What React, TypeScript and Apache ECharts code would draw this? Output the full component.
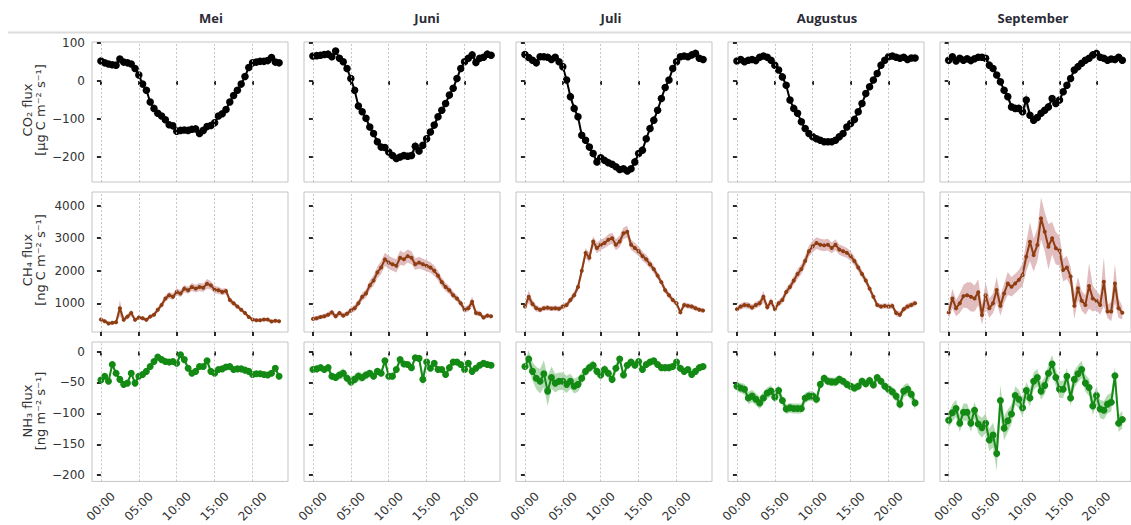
import React, { useEffect, useRef } from "react";
import * as echarts from "echarts";

const hours = [
  0, 0.5, 1, 1.5, 2, 2.5, 3, 3.5, 4, 4.5, 5, 5.5,
  6, 6.5, 7, 7.5, 8, 8.5, 9, 9.5, 10, 10.5, 11, 11.5,
  12, 12.5, 13, 13.5, 14, 14.5, 15, 15.5, 16, 16.5, 17, 17.5,
  18, 18.5, 19, 19.5, 20, 20.5, 21, 21.5, 22, 22.5, 23, 23.5,
];

const months = ["Mei", "Juni", "Juli", "Augustus", "September"];
const xTickValues = [0, 5, 10, 15, 20];
const xTickLabels = ["00:00", "05:00", "10:00", "15:00", "20:00"];
const co2Ticks = [-200, -100, 0, 100];
const ch4Ticks = [1000, 2000, 3000, 4000];
const nh3Ticks = [-200, -150, -100, -50, 0];

// CO2 flux [µg C m-2 s-1]
const co2Mei = [
  53, 48, 45, 43, 42, 58, 50, 48, 45, 33, 16, -8,
  -24, -55, -72, -85, -92, -102, -115, -118, -132, -130, -129, -130,
  -127, -126, -138, -130, -120, -117, -110, -92, -86, -75, -55, -38,
  -24, -8, 12, 36, 48, 50, 52, 52, 54, 62, 50, 48,
];
const co2Juni = [
  66, 67, 68, 70, 71, 64, 79, 60, 51, 33, 7, -24,
  -66, -81, -98, -121, -138, -160, -174, -175, -187, -196, -204, -200,
  -196, -198, -196, -172, -184, -169, -152, -134, -116, -94, -77, -59,
  -37, -19, 7, 33, 51, 60, 69, 49, 60, 63, 71, 68,
];
const co2Juli = [
  70, 62, 55, 48, 64, 64, 63, 57, 63, 51, 38, 3,
  -41, -72, -94, -143, -156, -174, -191, -213, -202, -209, -215, -219,
  -226, -233, -231, -237, -231, -213, -191, -182, -152, -125, -103, -77,
  -46, -17, 3, 33, 51, 64, 66, 64, 69, 73, 60, 57,
];
const co2Aug = [
  53, 57, 51, 55, 57, 54, 63, 66, 63, 55, 42, 29,
  11, -11, -50, -72, -85, -107, -125, -138, -147, -152, -156, -160,
  -160, -160, -156, -147, -138, -121, -112, -101, -81, -59, -33, -15,
  3, 20, 42, 55, 64, 66, 63, 60, 63, 57, 61, 61,
];
const co2Sep = [
  55, 64, 53, 60, 55, 59, 54, 59, 63, 63, 60, 42,
  33, 16, -2, -24, -41, -68, -72, -72, -81, -50, -90, -103,
  -96, -85, -77, -68, -46, -59, -50, -28, -11, 7, 29, 38,
  47, 55, 60, 69, 73, 63, 60, 55, 58, 57, 63, 55,
];
const co2MeiErr = [
  4, 4, 4, 4, 4, 5, 4, 4, 4, 4, 4, 4,
  4, 4, 5, 5, 5, 5, 5, 5, 5, 5, 5, 5,
  5, 5, 6, 5, 5, 5, 5, 5, 5, 5, 5, 5,
  4, 4, 4, 4, 4, 4, 4, 4, 4, 5, 4, 4,
];
const co2JuniErr = [
  4, 4, 4, 4, 4, 4, 5, 4, 4, 4, 4, 5,
  5, 5, 6, 6, 7, 8, 8, 9, 10, 10, 10, 10,
  10, 10, 10, 14, 10, 9, 8, 8, 7, 7, 6, 6,
  5, 5, 5, 5, 5, 5, 5, 12, 6, 5, 5, 5,
];
const co2JuliErr = [
  4, 5, 5, 5, 5, 5, 5, 5, 5, 5, 5, 5,
  5, 6, 6, 6, 6, 6, 7, 7, 7, 7, 7, 7,
  7, 7, 7, 8, 7, 7, 7, 6, 6, 6, 6, 6,
  5, 5, 5, 5, 5, 5, 5, 5, 5, 5, 5, 5,
];
const co2AugErr = [
  4, 4, 4, 4, 4, 4, 4, 4, 4, 4, 4, 4,
  5, 5, 5, 5, 5, 5, 6, 6, 6, 6, 6, 6,
  6, 6, 6, 6, 6, 6, 5, 5, 5, 5, 5, 5,
  5, 4, 4, 4, 4, 4, 4, 4, 4, 4, 4, 4,
];
const co2SepErr = [
  5, 5, 5, 5, 5, 5, 5, 5, 5, 5, 5, 6,
  6, 6, 7, 7, 8, 9, 9, 10, 10, 18, 10, 10,
  10, 10, 10, 9, 9, 9, 8, 8, 8, 8, 7, 7,
  6, 6, 6, 8, 6, 6, 5, 5, 5, 5, 5, 5,
];

// CH4 flux [ng C m-2 s-1]
const ch4Mei = [
  500, 450, 380, 400, 420, 850, 490, 590, 700, 490, 560, 540,
  490, 590, 650, 800, 950, 1150, 1250, 1200, 1350, 1300, 1450, 1400,
  1500, 1450, 1500, 1480, 1600, 1550, 1420, 1400, 1350, 1380, 1100, 1000,
  900, 800, 700, 580, 500, 480, 480, 500, 500, 440, 460, 450,
];
const ch4Juni = [
  520, 540, 580, 600, 650, 720, 600, 700, 620, 680, 780, 850,
  1000, 1200, 1300, 1550, 1700, 1950, 2100, 2350, 2250, 2200, 2150, 2400,
  2350, 2450, 2400, 2200, 2250, 2200, 2150, 2100, 2000, 1850, 1650, 1500,
  1400, 1250, 1150, 1000, 800, 850, 1050, 700, 680, 560, 620, 600,
];
const ch4Juli = [
  900, 1200, 980, 850, 800, 850, 860, 840, 850, 830, 900, 950,
  1100, 1250, 1500, 2000, 2550, 2400, 2900, 2700, 2800, 2850, 2950, 3000,
  2800, 2900, 3150, 3200, 2800, 2700, 2600, 2450, 2350, 2200, 2050, 1850,
  1650, 1400, 1250, 1100, 1000, 720, 950, 920, 900, 850, 800, 780,
];
const ch4Aug = [
  820, 900, 950, 930, 870, 950, 1000, 1200, 880, 1050, 820, 1000,
  1100, 1350, 1500, 1700, 1900, 2050, 2300, 2600, 2750, 2850, 2800, 2780,
  2800, 2700, 2800, 2650, 2600, 2550, 2450, 2300, 2100, 1900, 1700, 1450,
  1200, 950, 900, 920, 900, 920, 700, 650, 820, 900, 950, 1000,
];
const ch4Sep = [
  720, 1150, 850, 1000, 1220, 1250, 1200, 1150, 1340, 640, 1250, 850,
  1000, 1410, 920, 1300, 1610, 1510, 1610, 1720, 1870, 2430, 2890, 2480,
  2790, 3610, 3200, 2740, 3000, 2690, 2620, 2020, 2100, 1820, 920, 1460,
  1080, 950, 1530, 1150, 1080, 950, 1660, 750, 750, 1610, 850, 710,
];
const ch4MeiErr = [
  60, 60, 50, 50, 50, 250, 60, 80, 100, 60, 60, 60,
  60, 60, 70, 80, 90, 100, 100, 100, 110, 110, 110, 110,
  120, 120, 120, 130, 150, 130, 120, 110, 100, 100, 90, 80,
  70, 60, 60, 50, 50, 50, 50, 50, 50, 50, 50, 50,
];
const ch4JuniErr = [
  70, 70, 70, 70, 80, 90, 80, 80, 80, 80, 90, 100,
  110, 120, 130, 150, 160, 180, 200, 200, 200, 200, 200, 220,
  200, 200, 200, 180, 180, 170, 170, 160, 160, 150, 140, 130,
  120, 110, 100, 100, 90, 100, 150, 90, 80, 70, 70, 70,
];
const ch4JuliErr = [
  100, 200, 120, 100, 80, 80, 80, 80, 80, 80, 80, 90,
  100, 110, 130, 150, 150, 150, 160, 160, 160, 160, 170, 170,
  170, 180, 180, 180, 160, 150, 150, 140, 140, 130, 120, 110,
  100, 100, 90, 90, 80, 90, 90, 80, 80, 80, 70, 70,
];
const ch4AugErr = [
  80, 90, 100, 100, 90, 100, 110, 180, 100, 120, 90, 100,
  110, 120, 130, 140, 150, 160, 170, 170, 180, 180, 180, 180,
  180, 170, 170, 160, 160, 150, 150, 140, 130, 120, 110, 100,
  90, 80, 80, 80, 80, 90, 100, 90, 90, 90, 90, 90,
];
const ch4SepErr = [
  200, 300, 250, 300, 350, 400, 450, 400, 400, 300, 400, 300,
  300, 400, 300, 300, 350, 300, 300, 300, 350, 450, 600, 500,
  500, 650, 600, 700, 500, 500, 450, 350, 350, 300, 400, 350,
  300, 300, 700, 400, 300, 300, 750, 200, 300, 600, 300, 200,
];

// NH3 flux [ng m-2 s-1]
const nh3Mei = [
  -46, -40, -48, -21, -35, -45, -53, -51, -35, -51, -40, -37,
  -32, -24, -16, -9, -13, -16, -17, -16, -19, -5, -13, -27,
  -35, -32, -24, -24, -15, -32, -35, -29, -28, -25, -24, -29,
  -28, -28, -30, -32, -37, -36, -36, -37, -38, -35, -27, -40,
];
const nh3Juni = [
  -29, -28, -26, -29, -26, -40, -42, -38, -35, -43, -49, -45,
  -40, -42, -38, -35, -40, -32, -35, -15, -40, -40, -29, -13,
  -20, -21, -26, -10, -11, -45, -17, -27, -19, -29, -29, -37,
  -26, -17, -17, -21, -29, -19, -32, -27, -22, -19, -21, -22,
];
const nh3Juli = [
  -24, -12, -32, -43, -48, -36, -64, -42, -51, -48, -48, -53,
  -48, -56, -53, -43, -32, -26, -22, -32, -38, -29, -35, -45,
  -27, -12, -38, -22, -17, -22, -16, -29, -21, -17, -15, -21,
  -26, -26, -26, -24, -17, -27, -32, -29, -37, -32, -26, -24,
];
const nh3Aug = [
  -56, -59, -61, -75, -72, -77, -83, -75, -67, -64, -74, -63,
  -79, -93, -91, -92, -92, -92, -75, -72, -72, -77, -53, -43,
  -48, -49, -49, -45, -48, -53, -56, -59, -56, -48, -52, -47,
  -54, -42, -48, -56, -61, -65, -72, -85, -64, -61, -69, -83,
];
const nh3Sep = [
  -111, -99, -92, -116, -98, -98, -116, -95, -117, -123, -116, -143,
  -135, -165, -79, -124, -112, -101, -71, -77, -91, -63, -75, -48,
  -42, -64, -55, -35, -20, -42, -61, -61, -40, -75, -45, -36,
  -29, -51, -58, -88, -71, -93, -95, -85, -82, -39, -116, -110,
];
const nh3MeiErr = [
  4, 4, 4, 5, 4, 4, 4, 4, 4, 4, 4, 4,
  4, 4, 4, 4, 4, 4, 4, 4, 4, 4, 4, 4,
  4, 4, 4, 4, 5, 4, 4, 4, 3, 3, 3, 3,
  3, 3, 3, 3, 3, 3, 3, 3, 3, 4, 3, 3,
];
const nh3JuniErr = [
  5, 5, 5, 5, 5, 6, 6, 7, 8, 8, 8, 8,
  8, 7, 7, 6, 6, 6, 6, 6, 6, 6, 6, 5,
  5, 5, 5, 5, 5, 12, 6, 6, 5, 5, 5, 5,
  5, 5, 5, 5, 5, 5, 5, 5, 5, 5, 5, 5,
];
const nh3JuliErr = [
  8, 14, 15, 18, 20, 22, 24, 18, 15, 14, 14, 14,
  12, 12, 12, 10, 8, 8, 8, 8, 8, 8, 8, 8,
  7, 7, 7, 7, 6, 6, 6, 6, 6, 6, 6, 6,
  6, 6, 6, 6, 6, 6, 6, 6, 6, 6, 6, 6,
];
const nh3AugErr = [
  8, 8, 9, 10, 10, 10, 10, 10, 9, 9, 9, 9,
  8, 8, 8, 8, 8, 8, 8, 8, 8, 8, 7, 7,
  7, 7, 7, 7, 7, 7, 7, 7, 7, 7, 7, 7,
  7, 7, 7, 7, 8, 8, 9, 10, 10, 10, 10, 12,
];
const nh3SepErr = [
  12, 14, 14, 14, 14, 14, 14, 14, 15, 16, 16, 18,
  20, 28, 25, 20, 18, 16, 15, 15, 15, 14, 14, 14,
  14, 14, 14, 14, 15, 14, 14, 14, 14, 14, 14, 14,
  14, 14, 14, 15, 15, 15, 15, 15, 15, 15, 14, 14,
];

const rows = [
  {
    label: "CO\u2082 flux\n[\u03bcg C m\u207b\u00b2 s\u207b\u00b9]",
    means: [co2Mei, co2Juni, co2Juli, co2Aug, co2Sep],
    errs: [co2MeiErr, co2JuniErr, co2JuliErr, co2AugErr, co2SepErr],
    ticks: co2Ticks,
    min: -266,
    max: 103,
    color: "#000000",
    band: "rgba(90,90,90,0.45)",
    symbolSize: 7.5,
    lineWidth: 2,
  },
  {
    label: "CH\u2084 flux\n[ng C m\u207b\u00b2 s\u207b\u00b9]",
    means: [ch4Mei, ch4Juni, ch4Juli, ch4Aug, ch4Sep],
    errs: [ch4MeiErr, ch4JuniErr, ch4JuliErr, ch4AugErr, ch4SepErr],
    ticks: ch4Ticks,
    min: 117,
    max: 4421,
    color: "#8e3e12",
    band: "rgba(180,90,95,0.4)",
    symbolSize: 4,
    lineWidth: 2,
  },
  {
    label: "NH\u2083 flux\n[ng m\u207b\u00b2 s\u207b\u00b9]",
    means: [nh3Mei, nh3Juni, nh3Juli, nh3Aug, nh3Sep],
    errs: [nh3MeiErr, nh3JuniErr, nh3JuliErr, nh3AugErr, nh3SepErr],
    ticks: nh3Ticks,
    min: -210,
    max: 15.5,
    color: "#138a13",
    band: "rgba(40,150,40,0.35)",
    symbolSize: 7,
    lineWidth: 2,
  },
];

const colLeft = [92, 304, 516, 728, 940];
const rowTop = [42, 192, 342];
const panelW = 196;
const panelH = 140;
const titleX = [211, 427, 611, 827, 1033];
const labelY = [110, 260, 411];

const fmtNum = (v: number) => (v < 0 ? "\u2212" + Math.abs(v) : String(v));

function buildOption() {
  const grids: any[] = [];
  const xAxes: any[] = [];
  const yAxes: any[] = [];
  const series: any[] = [];
  let k = 0;
  rows.forEach((row, r) => {
    months.forEach((_m, c) => {
      grids.push({
        left: colLeft[c],
        top: rowTop[r],
        width: panelW,
        height: panelH,
        show: true,
        borderColor: "#c4c4c4",
        borderWidth: 1,
        backgroundColor: "transparent",
      });
      xAxes.push({
        type: "value",
        gridIndex: k,
        min: -1.175,
        max: 24.675,
        axisLine: { show: false },
        splitLine: { show: false },
        axisTick: {
          show: true,
          customValues: xTickValues,
          length: 4,
          lineStyle: { color: "#111", width: 1.8 },
        },
        axisLabel: {
          show: r === 2,
          customValues: xTickValues,
          formatter: (v: number) => xTickLabels[xTickValues.indexOf(v)] ?? "",
          rotate: 45,
          align: "center",
          verticalAlign: "middle",
          margin: 25,
          fontSize: 12,
          color: "#333",
          fontFamily: "DejaVu Sans",
        },
      });
      yAxes.push({
        type: "value",
        gridIndex: k,
        min: row.min,
        max: row.max,
        axisLine: { show: false },
        splitLine: { show: false },
        axisTick: {
          show: true,
          customValues: row.ticks,
          length: 4,
          lineStyle: { color: "#111", width: 1.8 },
        },
        axisLabel: {
          show: c === 0,
          customValues: row.ticks,
          formatter: (v: number) => fmtNum(v),
          margin: 7,
          fontSize: 12,
          color: "#333",
          fontFamily: "DejaVu Sans",
        },
      });
      const mean = row.means[c];
      const err = row.errs[c];
      const lo = mean.map((v, i) => v - err[i]);
      const hi = mean.map((v, i) => v + err[i]);
      series.push({
        type: "line",
        xAxisIndex: k,
        yAxisIndex: k,
        data: [],
        silent: true,
        z: 1,
        markLine: {
          silent: true,
          symbol: ["none", "none"],
          label: { show: false },
          lineStyle: { color: "#b8b8b8", type: [2, 2], width: 0.8 },
          data: xTickValues.map((v) => ({ xAxis: v })),
        },
      });
      series.push({
        type: "custom",
        xAxisIndex: k,
        yAxisIndex: k,
        silent: true,
        z: 2,
        data: hours.map((h, i) => [h, lo[i], hi[i]]),
        encode: { x: 0, y: [1, 2] },
        renderItem: (params: any, api: any) => {
          if (params.dataIndex !== 0) return null;
          const pts: number[][] = [];
          for (let i = 0; i < hours.length; i++) pts.push(api.coord([hours[i], hi[i]]));
          for (let i = hours.length - 1; i >= 0; i--) pts.push(api.coord([hours[i], lo[i]]));
          return {
            type: "polygon",
            shape: { points: pts },
            style: { fill: row.band, stroke: "none" },
          };
        },
      });
      series.push({
        type: "line",
        xAxisIndex: k,
        yAxisIndex: k,
        data: hours.map((h, i) => [h, mean[i]]),
        silent: true,
        z: 3,
        symbol: "circle",
        symbolSize: row.symbolSize,
        showSymbol: true,
        showAllSymbol: true,
        lineStyle: { color: row.color, width: row.lineWidth },
        itemStyle: { color: row.color, borderWidth: 0 },
      });
      k++;
    });
  });

  const graphic: any[] = [
    {
      type: "line",
      shape: { x1: 8, y1: 32.5, x2: 1131, y2: 32.5 },
      style: { stroke: "#dcdcdc", lineWidth: 2 },
      silent: true,
    },
  ];
  months.forEach((m, c) => {
    graphic.push({
      type: "text",
      x: titleX[c],
      y: 18,
      silent: true,
      style: {
        text: m,
        fontSize: 13,
        fontWeight: "bold",
        fontFamily: "Open Sans",
        fill: "#2b2b36",
        align: "center",
        verticalAlign: "middle",
      },
    });
  });
  rows.forEach((row, r) => {
    graphic.push({
      type: "text",
      x: 34,
      y: labelY[r],
      rotation: Math.PI / 2,
      silent: true,
      style: {
        text: row.label,
        fontSize: 13,
        lineHeight: 13,
        fontFamily: "DejaVu Sans",
        fill: "#333",
        align: "center",
        verticalAlign: "middle",
      },
    });
  });

  return {
    animation: false,
    backgroundColor: "#ffffff",
    textStyle: { fontFamily: "DejaVu Sans" },
    grid: grids,
    xAxis: xAxes,
    yAxis: yAxes,
    series,
    graphic,
  };
}

export default function App() {
  const ref = useRef<HTMLDivElement>(null);
  useEffect(() => {
    document.body.style.margin = "0";
    if (!ref.current) return;
    const chart = echarts.init(ref.current, undefined, { renderer: "svg" });
    chart.setOption(buildOption() as any);
    return () => chart.dispose();
  }, []);
  return <div ref={ref} style={{ width: 1131, height: 525 }} />;
}
